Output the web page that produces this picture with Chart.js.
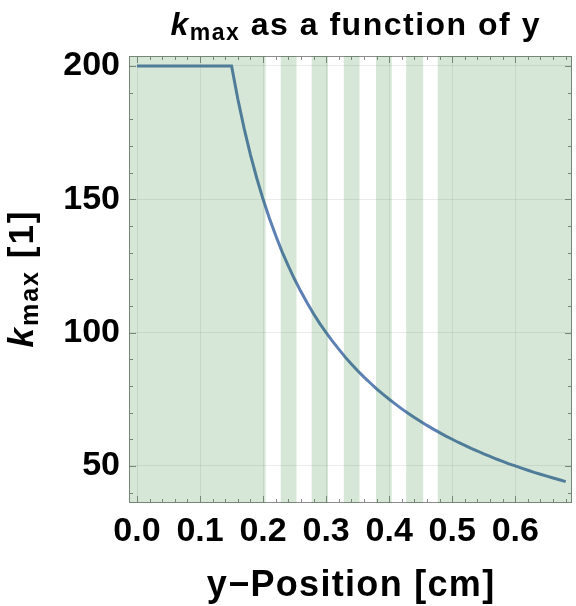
<!DOCTYPE html>
<html>
<head>
<meta charset="utf-8">
<script src="https://cdn.jsdelivr.net/npm/chart.js@4/dist/chart.umd.min.js"></script>
<style>
  html, body { margin: 0; padding: 0; background: #ffffff; }
  #wrap { width: 576px; height: 606px; }
</style>
</head>
<body>
<div id="wrap"><canvas id="c" width="576" height="606"></canvas></div>
<script>
// y-position along the sample [cm]
const positions = [
  0.00, 0.05, 0.10, 0.15, 0.16, 0.17, 0.18, 0.19, 0.20, 0.21, 0.22, 0.23, 0.24,
  0.25, 0.26, 0.27, 0.28, 0.29, 0.30, 0.31, 0.32, 0.33, 0.34, 0.35, 0.36, 0.37,
  0.38, 0.39, 0.40, 0.41, 0.42, 0.43, 0.44, 0.45, 0.46, 0.47, 0.48, 0.49, 0.50,
  0.51, 0.52, 0.53, 0.54, 0.55, 0.56, 0.57, 0.58, 0.59, 0.60, 0.61, 0.62, 0.63,
  0.64, 0.65, 0.66, 0.67, 0.68
];
// k_max at each position [1]
const kMax = [
  200, 200, 200, 200, 187.5, 176.5, 166.7, 157.9, 150.0, 142.9, 136.4, 130.4, 125.0,
  120.0, 115.4, 111.1, 107.1, 103.4, 100.0, 96.8, 93.8, 90.9, 88.2, 85.7, 83.3, 81.1,
  78.9, 76.9, 75.0, 73.2, 71.4, 69.8, 68.2, 66.7, 65.2, 63.8, 62.5, 61.2, 60.0,
  58.8, 57.7, 56.6, 55.6, 54.5, 53.6, 52.6, 51.7, 50.8, 50.0, 49.2, 48.4, 47.6,
  46.9, 46.2, 45.5, 44.8, 44.1
];
// shaded (green) regions along y [cm]
const bandStarts = [-0.05, 0.228, 0.277, 0.328, 0.379, 0.427, 0.477];
const bandEnds   = [0.204, 0.253, 0.303, 0.353, 0.404, 0.454, 0.75];
// tick labels
const xTickValues = [0.0, 0.1, 0.2, 0.3, 0.4, 0.5, 0.6];
const yTickValues = [50, 100, 150, 200];

const X_MIN = -0.0127, X_MAX = 0.69;
const Y_MIN = 36.1, Y_MAX = 203.75;
const FONT = '"Liberation Sans", Arial, Helvetica, sans-serif';

// frame plus inward-pointing ticks on all four sides
const framePlugin = {
  id: 'frameTicks',
  afterDatasetsDraw(chart) {
    const { ctx, chartArea: a, scales: { x, y } } = chart;
    ctx.save();
    ctx.strokeStyle = 'rgb(140,140,140)';
    ctx.lineWidth = 1;
    ctx.strokeRect(a.left + 0.5, a.top + 0.5, a.right - a.left - 1, a.bottom - a.top - 1);
    ctx.beginPath();
    for (let i = 0; i <= 34; i++) {
      const v = i * 0.02;
      const px = Math.round(x.getPixelForValue(v)) + 0.5;
      const len = (i % 5 === 0) ? 7 : 4;
      ctx.moveTo(px, a.bottom); ctx.lineTo(px, a.bottom - len);
      ctx.moveTo(px, a.top); ctx.lineTo(px, a.top + len);
    }
    for (let v = 40; v <= 200; v += 10) {
      const py = Math.round(y.getPixelForValue(v)) + 0.5;
      const len = (v % 50 === 0) ? 7 : 4;
      ctx.moveTo(a.left, py); ctx.lineTo(a.left + len, py);
      ctx.moveTo(a.right, py); ctx.lineTo(a.right - len, py);
    }
    ctx.stroke();
    ctx.restore();
  }
};

// translucent green bands laid over the plot
const bandPlugin = {
  id: 'bands',
  afterDatasetsDraw(chart) {
    const { ctx, chartArea: a, scales: { x } } = chart;
    ctx.save();
    ctx.beginPath();
    ctx.rect(a.left, a.top, a.right - a.left, a.bottom - a.top);
    ctx.clip();
    ctx.fillStyle = 'rgba(0,105,0,0.155)';
    for (let i = 0; i < bandStarts.length; i++) {
      const x0 = x.getPixelForValue(bandStarts[i]);
      const x1 = x.getPixelForValue(bandEnds[i]);
      ctx.fillRect(x0, a.top, x1 - x0, a.bottom - a.top);
    }
    ctx.restore();
  }
};

// draws a run of text pieces [{text, font, dy}] centred on (0,0) of the current transform
function drawPieces(ctx, pieces, spacing) {
  ctx.letterSpacing = spacing + 'px';
  let total = 0;
  pieces.forEach(p => { ctx.font = p.font; p.w = ctx.measureText(p.text).width; total += p.w; });
  total -= spacing;
  let cx = -total / 2;
  pieces.forEach(p => {
    ctx.font = p.font;
    ctx.fillText(p.text, cx, p.dy || 0);
    cx += p.w;
  });
  ctx.letterSpacing = '0px';
}

const labelPlugin = {
  id: 'labels',
  afterDraw(chart) {
    const { ctx, chartArea: a } = chart;
    ctx.save();
    ctx.fillStyle = '#000';
    ctx.textAlign = 'left';
    ctx.textBaseline = 'alphabetic';

    // title
    ctx.save();
    ctx.translate(355, 35);
    drawPieces(ctx, [
      { text: 'k', font: `italic bold 32px ${FONT}` },
      { text: 'max', font: `bold 23px ${FONT}`, dy: 5 },
      { text: ' as a function of y', font: `bold 32px ${FONT}` }
    ], 1.5);
    ctx.restore();

    // x-axis label
    ctx.save();
    ctx.translate((a.left + a.right) / 2, 596);
    drawPieces(ctx, [{ text: 'y\u2212Position [cm]', font: `bold 36px ${FONT}` }], 1.3);
    ctx.restore();

    // y-axis label
    ctx.save();
    ctx.translate(33, (a.top + a.bottom) / 2);
    ctx.rotate(-Math.PI / 2);
    drawPieces(ctx, [
      { text: 'k', font: `italic bold 35px ${FONT}` },
      { text: 'max', font: `bold 25px ${FONT}`, dy: 5 },
      { text: ' [1]', font: `bold 35px ${FONT}` }
    ], 2);
    ctx.restore();

    ctx.restore();
  }
};

const points = positions.map((p, i) => ({ x: p, y: kMax[i] }));

new Chart(document.getElementById('c'), {
  type: 'line',
  data: {
    datasets: [{
      data: points,
      borderColor: '#5E81B5',
      borderWidth: 3,
      pointRadius: 0,
      tension: 0,
      fill: false
    }]
  },
  options: {
    responsive: false,
    animation: false,
    devicePixelRatio: 1,
    layout: { padding: { left: 0, top: 56, right: 4, bottom: 0 } },
    plugins: { legend: { display: false }, tooltip: { enabled: false }, title: { display: false } },
    scales: {
      x: {
        type: 'linear',
        min: X_MIN, max: X_MAX,
        afterBuildTicks(s) { s.ticks = xTickValues.map(v => ({ value: v })); },
        afterFit(s) { s.height = 103; },
        border: { display: false },
        grid: { color: 'rgba(0,0,0,0.08)', lineWidth: 1, drawTicks: false },
        ticks: {
          autoSkip: false, maxRotation: 0, minRotation: 0, padding: 8,
          color: '#000',
          font: { family: FONT, size: 34, weight: 'bold' },
          callback: v => Number(v).toFixed(1)
        }
      },
      y: {
        min: Y_MIN, max: Y_MAX,
        afterBuildTicks(s) { s.ticks = yTickValues.map(v => ({ value: v })); },
        afterFit(s) { s.width = 129; },
        border: { display: false },
        grid: { color: 'rgba(0,0,0,0.08)', lineWidth: 1, drawTicks: false },
        ticks: {
          autoSkip: false, padding: 9,
          color: '#000',
          font: { family: FONT, size: 34, weight: 'bold' },
          callback: v => String(v)
        }
      }
    }
  },
  plugins: [framePlugin, bandPlugin, labelPlugin]
});
</script>
</body>
</html>
